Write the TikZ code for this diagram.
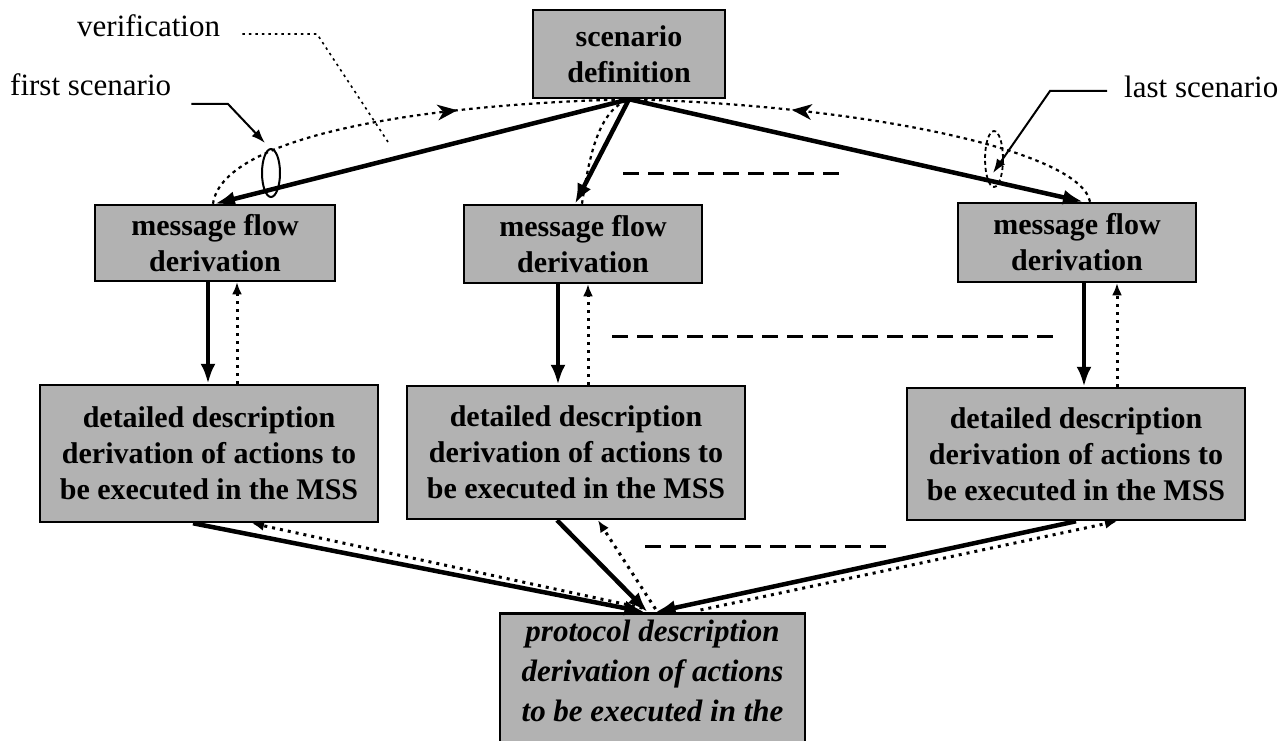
\documentclass[tikz,border=0pt]{standalone}
\usepackage{fontspec}
\setmainfont{Liberation Serif}
\usetikzlibrary{arrows.meta,decorations.markings}

\tikzset{
  box/.style={draw, line width=2.5pt, fill=black!30, rectangle, inner sep=0pt,
              align=center, font=\bfseries\fontsize{30}{36}\selectfont},
  flow/.style={line width=4.5pt, -{Latex[length=20pt,width=15pt]}},
  back/.style={line width=3pt, dash pattern=on 3pt off 5pt,
               -{Latex[length=12pt,width=10pt]}},
  verif/.style={line width=2.2pt, dash pattern=on 3.5pt off 4pt},
  gap/.style={line width=3pt, dash pattern=on 16pt off 9pt},
  lbl/.style={font=\fontsize{31}{36}\selectfont, inner sep=0pt},
  leader/.style={line width=2pt, -{Latex[length=14pt,width=10pt]}},
  midarrow/.style={postaction={decorate}, decoration={markings,
      mark=at position #1 with {\fill[solid] (6pt,0pt) -- (-14pt,8pt)
                                 -- (-8pt,0pt) -- (-14pt,-8pt) -- cycle;}}},
}

\begin{document}
\begin{tikzpicture}[x=1pt, y=-1pt]
  \useasboundingbox (0,0) rectangle (1282,741);
  \clip (0,0) rectangle (1282,741);

  % boxes
  \node[box, minimum width=192pt, minimum height=88pt] (sd) at (629,54)
       {scenario\\definition};

  \node[box, minimum width=240pt, minimum height=76pt] (m1) at (215,243)
       {message flow\\derivation};
  \node[box, minimum width=238pt, minimum height=78pt] (m2) at (583,244)
       {message flow\\derivation};
  \node[box, minimum width=238pt, minimum height=79pt] (m3) at (1077,242.5)
       {message flow\\derivation};

  \node[box, minimum width=338pt, minimum height=137pt] (d1) at (209,453.5)
       {detailed description\\derivation of actions to\\be executed in the MSS};
  \node[box, minimum width=338pt, minimum height=133pt] (d2) at (576,452.5)
       {detailed description\\derivation of actions to\\be executed in the MSS};
  \node[box, minimum width=338pt, minimum height=132pt] (d3) at (1076,454)
       {detailed description\\derivation of actions to\\be executed in the MSS};

  \node[box, minimum width=305pt, minimum height=190pt, anchor=north] (pd)
       at (652.5,612) {};
  \node[anchor=north, inner sep=0pt, align=center,
        font=\bfseries\itshape\fontsize{31}{40}\selectfont] (pdtext)
       at ([yshift=-8pt]pd.north)
       {protocol description\\derivation of actions\\to be executed in the};

  % scenario definition to the message flows
  \draw[flow] (sd.south) -- (m1.north);
  \draw[flow] (sd.south) -- ([xshift=-8pt]m2.north);
  \draw[flow] (sd.south) -- ([xshift=6pt]m3.north);

  % verification paths back to the scenario definition
  \draw[verif, midarrow=0.6] ([xshift=-2pt]m1.north)
       .. controls (222,140) and (400,105) .. (sd.south);
  \draw[verif, midarrow=0.65] ([xshift=13pt]m3.north)
       .. controls (1080,150) and (860,105) .. (sd.south);
  \draw[verif] ([xshift=-1pt]m2.north)
       .. controls (590,150) and (600,110) .. (sd.south);

  % message flow <-> detailed description
  \draw[flow] ([xshift=-7pt]m1.south) -- ([xshift=-7pt]m1.south |- d1.north);
  \draw[back] ([xshift=22pt]m1.south |- d1.north) -- ([xshift=22pt]m1.south);
  \draw[flow] ([xshift=-25pt]m2.south) -- ([xshift=-25pt]m2.south |- d2.north);
  \draw[back] ([xshift=5pt]m2.south |- d2.north) -- ([xshift=5pt]m2.south);
  \draw[flow] ([xshift=7pt]m3.south) -- ([xshift=7pt]m3.south |- d3.north);
  \draw[back] ([xshift=40pt]m3.south |- d3.north) -- ([xshift=40pt]m3.south);

  % detailed descriptions <-> protocol description
  \draw[flow] ([xshift=-16pt]d1.south) -- ([xshift=-8pt]pd.north);
  \draw[back] ([xshift=-10pt,yshift=4pt]pd.north) -- ([xshift=43pt]d1.south);
  \draw[flow] ([xshift=-19pt]d2.south) -- ([xshift=-5pt]pd.north);
  \draw[back] ([xshift=3pt,yshift=3pt]pd.north) -- ([xshift=22pt]d2.south);
  \draw[flow] (d3.south) -- ([xshift=3pt]pd.north);
  \draw[back] ([xshift=48pt,yshift=2pt]pd.north) -- ([xshift=41pt]d3.south);

  % further scenarios in between
  \coordinate (g1a) at (623,173);  \coordinate (g1b) at (840,173);
  \coordinate (g2a) at (612,336);  \coordinate (g2b) at (1055,336);
  \coordinate (g3a) at (645,546);  \coordinate (g3b) at (887,546);
  \draw[gap] (g1a) -- (g1b);
  \draw[gap] (g2a) -- (g2b);
  \draw[gap] (g3a) -- (g3b);

  % annotations
  \node[lbl, anchor=base west] (vlabel) at (77,37) {verification};
  \node[lbl, anchor=base west] (flabel) at (10,96) {first scenario};
  \node[lbl, anchor=base west] (llabel) at (1124,98) {last scenario};

  \coordinate (vA) at (317,34);
  \coordinate (vB) at (390,145);
  \draw[line width=1.6pt, dash pattern=on 2.5pt off 4pt]
       ([xshift=22pt,yshift=3pt]vlabel.base east) -- (vA) -- (vB);

  \coordinate (fA) at (228,104);
  \coordinate (fB) at (265,143);
  \draw[leader] ([xshift=20pt,yshift=-8pt]flabel.base east) -- (fA) -- (fB);
  \draw[line width=2pt] (271,173) ellipse [x radius=9, y radius=24];

  \coordinate (lA) at (1050,91);
  \coordinate (lB) at (993,173);
  \draw[leader] ([xshift=-17pt,yshift=7pt]llabel.base west) -- (lA) -- (lB);
  \draw[line width=1.8pt, dash pattern=on 4pt off 3pt]
       (994,159) ellipse [x radius=9, y radius=28];
\end{tikzpicture}
\end{document}
